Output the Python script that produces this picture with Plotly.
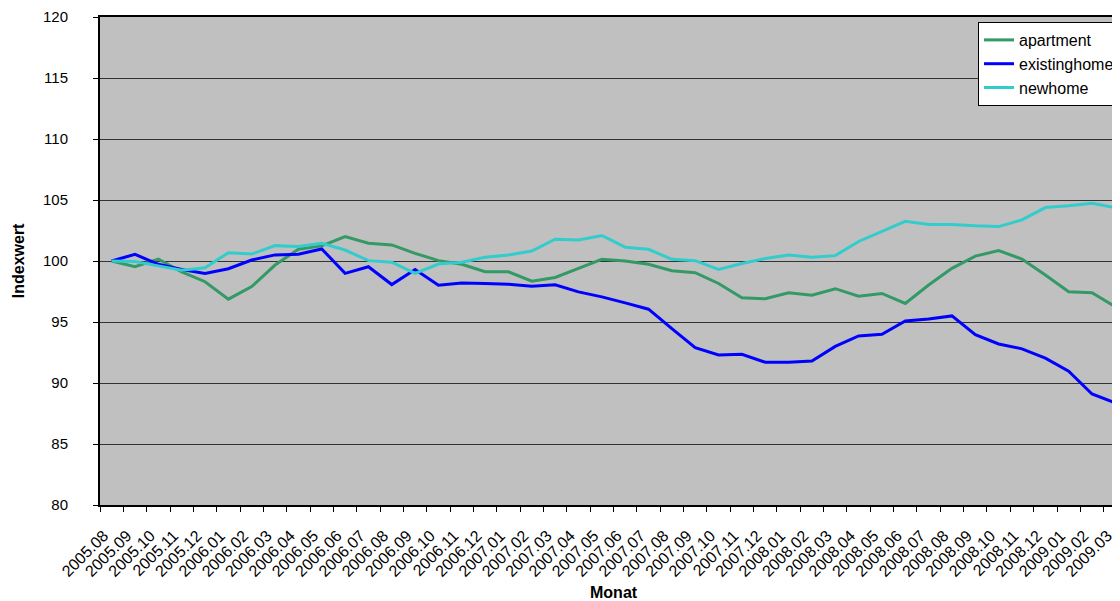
import plotly.graph_objects as go

months = ["2005.08", "2005.09", "2005.10", "2005.11", "2005.12",
          "2006.01", "2006.02", "2006.03", "2006.04", "2006.05", "2006.06",
          "2006.07", "2006.08", "2006.09", "2006.10", "2006.11", "2006.12",
          "2007.01", "2007.02", "2007.03", "2007.04", "2007.05", "2007.06",
          "2007.07", "2007.08", "2007.09", "2007.10", "2007.11", "2007.12",
          "2008.01", "2008.02", "2008.03", "2008.04", "2008.05", "2008.06",
          "2008.07", "2008.08", "2008.09", "2008.10", "2008.11", "2008.12",
          "2009.01", "2009.02", "2009.03"]

apartment = [100.0, 99.53, 100.16, 99.1, 98.3, 96.87, 97.9, 99.67, 100.96, 101.24,
             102.0, 101.46, 101.32, 100.63, 100.03, 99.73, 99.12, 99.12, 98.35, 98.65,
             99.4, 100.14, 100.0, 99.73, 99.2, 99.04, 98.16, 96.98, 96.9, 97.4,
             97.2, 97.73, 97.12, 97.34, 96.52, 98.03, 99.4, 100.4, 100.85, 100.16,
             98.85, 97.48, 97.4, 96.25]

existinghome = [100.0, 100.55, 99.73, 99.3, 98.98, 99.37, 100.08, 100.5, 100.55, 100.99,
                98.99, 99.53, 98.07, 99.3, 98.02, 98.2, 98.15, 98.1, 97.94, 98.05,
                97.47, 97.06, 96.57, 96.05, 94.45, 92.9, 92.3, 92.35, 91.7, 91.7,
                91.8, 93.0, 93.86, 94.0, 95.09, 95.24, 95.5, 93.97, 93.2, 92.8,
                92.03, 90.96, 89.1, 88.36]

newhome = [100.0, 99.95, 99.6, 99.25, 99.45, 100.68, 100.57, 101.26, 101.18, 101.45,
           100.9, 100.03, 99.9, 98.98, 99.75, 99.9, 100.3, 100.5, 100.82, 101.79,
           101.73, 102.09, 101.13, 100.96, 100.14, 100.03, 99.31, 99.8, 100.2, 100.5,
           100.3, 100.44, 101.6, 102.4, 103.25, 102.99, 102.99, 102.88, 102.82, 103.37,
           104.38, 104.52, 104.74, 104.38]

series = [("apartment", apartment, "#339966"),
          ("existinghome", existinghome, "#0000FF"),
          ("newhome", newhome, "#33CCCC")]

FONT = "Liberation Sans, Arial, sans-serif"

# the page body has an 8px default margin; work in screen pixels and subtract it
OFF = 8
W, H = 1120 - OFF, 601 - OFF
L = 100 - OFF
T = 17 - OFF
B = H - (505 - OFF)
R = 0
pw = W - L - R
ph = H - T - B


def px_x(sx):
    return (sx - OFF - L) / pw


def px_y(sy):
    return (H - B - (sy - OFF)) / ph


fig = go.Figure()
for name, vals, col in series:
    fig.add_trace(go.Scatter(x=months, y=vals, name=name, mode="lines",
                             line=dict(color=col, width=3)))

fig.update_layout(
    width=W, height=H,
    margin=dict(l=L, r=R, t=T, b=B),
    paper_bgcolor="white",
    plot_bgcolor="#C0C0C0",
    font=dict(family=FONT, size=15, color="black"),
    showlegend=True,
    legend=dict(x=px_x(981), y=px_y(22), xanchor="left", yanchor="top",
                bgcolor="white", bordercolor="black", borderwidth=1,
                font=dict(size=16), traceorder="normal"),
    xaxis=dict(type="category", range=[-0.5, 43.07], tickson="boundaries",
               showgrid=False, showline=True, linecolor="black", linewidth=2,
               mirror=True, ticks="outside", ticklen=5, tickcolor="black",
               tickangle=-45, tickfont=dict(size=16), ticklabelstandoff=13,
               ticklabelshift=-8, zeroline=False),
    yaxis=dict(range=[80, 120], dtick=5, showgrid=True, gridcolor="#333333",
               gridwidth=1, showline=True, linecolor="black", linewidth=2,
               ticks="outside", ticklen=5, tickcolor="black",
               ticklabelstandoff=22, tickfont=dict(size=15), zeroline=False),
)

fig.add_annotation(text="<b>Monat</b>", xref="paper", yref="paper",
                   x=px_x(616), y=px_y(592), showarrow=False,
                   font=dict(size=16, family=FONT), xanchor="center", yanchor="middle")
fig.add_annotation(text="<b>Indexwert</b>", xref="paper", yref="paper",
                   x=px_x(18), y=px_y(261), showarrow=False, textangle=-90,
                   font=dict(size=16, family=FONT), xanchor="center", yanchor="middle")

fig.write_html("out.html")
